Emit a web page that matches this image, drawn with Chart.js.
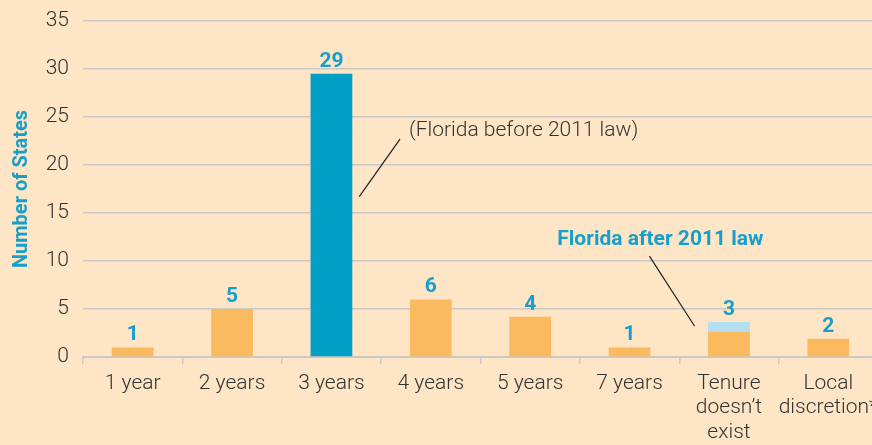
<!DOCTYPE html>
<html>
<head>
<meta charset="utf-8">
<script src="https://cdn.jsdelivr.net/npm/chart.js@4.4.1/dist/chart.umd.min.js"></script>
<style>
  html, body { margin: 0; padding: 0; background: #fde5c5; overflow: hidden; }
  canvas { display: block; }
</style>
</head>
<body>
<canvas id="tenureChart" width="880" height="445"></canvas>
<script>
// Years before a teacher gets tenure, by number of states
const categories = ['1 year', '2 years', '3 years', '4 years', '5 years', '7 years',
    ['Tenure', 'doesn\u2019t', 'exist'], ['Local', 'discretion*']];
const stateCounts = [1, 5, 29.5, 6, 4.2, 1, 2.65, 1.9];
const floridaAfter = [0, 0, 0, 0, 0, 0, 1, 0];
const valueLabels = ['1', '5', '29', '6', '4', '1', '3', '2'];
const yTicks = [0, 5, 10, 15, 20, 25, 30, 35];
const floridaBeforeIndex = 2;
const floridaAfterIndex = 6;

const ORANGE = '#fbba5e';
const BLUE = '#019fc6';
const LIGHT_BLUE = '#b5dff0';
const LABEL_BLUE = '#169fcb';
const TEXT = '#333333';
const GRID = '#cdc9c2';
const FONT = "Roboto, 'Liberation Sans Narrow', sans-serif";

// Value labels over each bar
const barLabels = {
    id: 'barLabels',
    afterDatasetsDraw(chart) {
        const { ctx, scales: { x, y } } = chart;
        ctx.save();
        ctx.font = 'bold 21px ' + FONT;
        ctx.fillStyle = LABEL_BLUE;
        ctx.textAlign = 'center';
        ctx.textBaseline = 'alphabetic';
        valueLabels.forEach((txt, i) => {
            const total = stateCounts[i] + floridaAfter[i];
            ctx.fillText(txt, x.getPixelForValue(i), y.getPixelForValue(total) - 7);
        });
        ctx.restore();
    }
};

// Florida call-outs
const callouts = {
    id: 'callouts',
    afterDraw(chart) {
        const { ctx, scales: { x, y } } = chart;
        const step = x.getPixelForValue(1) - x.getPixelForValue(0);
        const px = (cat, off) => x.getPixelForValue(cat) + off * step;

        ctx.save();
        ctx.strokeStyle = '#222';
        ctx.lineWidth = 1.2;
        ctx.beginPath();
        ctx.moveTo(px(floridaBeforeIndex, 0.28), y.getPixelForValue(16.7));
        ctx.lineTo(px(floridaBeforeIndex, 0.69), y.getPixelForValue(22.7));
        ctx.moveTo(px(floridaAfterIndex, -0.80), y.getPixelForValue(10.5));
        ctx.lineTo(px(floridaAfterIndex, -0.345), y.getPixelForValue(3.2));
        ctx.stroke();

        ctx.textBaseline = 'middle';
        ctx.font = '300 21px ' + FONT;
        ctx.fillStyle = TEXT;
        ctx.textAlign = 'left';
        ctx.fillText('(Florida before 2011 law)', px(floridaBeforeIndex, 0.78), y.getPixelForValue(23.55));

        ctx.font = 'bold 21px ' + FONT;
        ctx.fillStyle = LABEL_BLUE;
        ctx.textAlign = 'center';
        ctx.fillText('Florida after 2011 law', px(floridaAfterIndex, -0.69), y.getPixelForValue(12.2));
        ctx.restore();
    }
};

new Chart(document.getElementById('tenureChart').getContext('2d'), {
    type: 'bar',
    data: {
        labels: categories,
        datasets: [
            {
                data: stateCounts,
                backgroundColor: stateCounts.map((v, i) => i === floridaBeforeIndex ? BLUE : ORANGE),
                barPercentage: 0.42,
                categoryPercentage: 1
            },
            {
                data: floridaAfter,
                backgroundColor: LIGHT_BLUE,
                barPercentage: 0.42,
                categoryPercentage: 1
            }
        ]
    },
    options: {
        responsive: false,
        animation: false,
        layout: { padding: { top: 21, right: 2, left: 0, bottom: 0 } },
        plugins: {
            legend: { display: false },
            tooltip: { enabled: false }
        },
        scales: {
            x: {
                stacked: true,
                grid: { offset: true, drawOnChartArea: false, tickLength: 7, color: GRID, lineWidth: 1.5 },
                border: { color: GRID, width: 2 },
                ticks: {
                    color: TEXT,
                    font: { family: FONT, size: 21, weight: 300, lineHeight: 1.15 },
                    padding: 8,
                    maxRotation: 0,
                    autoSkip: false
                },
                afterFit: function(scale) {
                    scale.height = 88;
                    scale.paddingLeft = 0;
                    scale.paddingRight = 0;
                }
            },
            y: {
                stacked: true,
                min: 0,
                max: 35,
                afterBuildTicks: function(axis) {
                    axis.ticks = yTicks.map(v => ({ value: v }));
                },
                grid: { drawTicks: false, color: GRID, lineWidth: 1.5 },
                border: { display: false },
                ticks: { color: TEXT, font: { family: FONT, size: 21, weight: 300 }, padding: 14 },
                title: {
                    display: true,
                    text: 'Number of States',
                    color: LABEL_BLUE,
                    font: { family: FONT, size: 20, weight: 'bold' },
                    padding: { top: 10, bottom: 0 }
                },
                afterFit: function(scale) {
                    scale.width = 83;
                    scale.paddingTop = 0;
                    scale.paddingBottom = 0;
                }
            }
        }
    },
    plugins: [barLabels, callouts]
});
</script>
</body>
</html>
